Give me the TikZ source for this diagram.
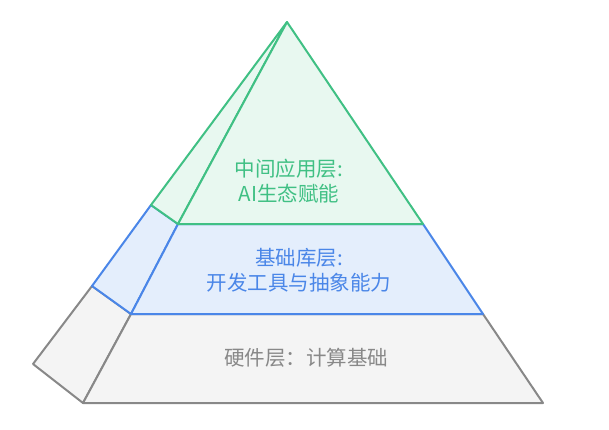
\documentclass[tikz,border=0pt]{standalone}
\usepackage{fontspec}
\newfontfamily\cjk{Noto Sans CJK SC}
\usetikzlibrary{calc}
\definecolor{LayerGreen}{RGB}{64,192,132}
\definecolor{LayerGreenFill}{RGB}{232,248,240}
\definecolor{LayerBlue}{RGB}{74,134,232}
\definecolor{LayerBlueFill}{RGB}{228,238,252}
\definecolor{LayerGray}{RGB}{136,136,136}
\definecolor{LayerGrayFill}{RGB}{244,244,244}

\begin{document}
\begin{tikzpicture}[
    x=1pt, y=-1pt,
    face/.style={line width=2pt, line join=round},
    label/.style={font=\cjk\fontsize{20.5}{25}\selectfont, align=center},
]
\useasboundingbox (0,0) rectangle (609,429);

% corners of the pyramid (pixel grid)
\coordinate (apex) at (287,22);
\coordinate (gL) at (178,224);
\coordinate (gR) at (423,224);
\coordinate (gB) at (151,205);
\coordinate (bL) at (131,314);
\coordinate (bR) at (483,314);
\coordinate (bB) at (92,286);
\coordinate (fL) at (83,403);
\coordinate (fR) at (543,403);
\coordinate (fB) at (33,364);

% hardware layer
\filldraw[face, draw=LayerGray, fill=LayerGrayFill]
    (bB) -- (fB) -- (fL) -- (bL) -- cycle;
\filldraw[face, draw=LayerGray, fill=LayerGrayFill]
    (bL) -- (fL) -- (fR) -- (bR) -- cycle;

% library layer
\filldraw[face, draw=LayerBlue, fill=LayerBlueFill]
    (gB) -- (bB) -- (bL) -- (gL) -- cycle;
\filldraw[face, draw=LayerBlue, fill=LayerBlueFill]
    (gL) -- (bL) -- (bR) -- (gR) -- cycle;

% application layer
\filldraw[face, draw=LayerGreen, fill=LayerGreenFill]
    (apex) -- (gB) -- (gL) -- cycle;
\filldraw[face, draw=LayerGreen, fill=LayerGreenFill]
    (apex) -- (gL) -- (gR) -- cycle;

\node[label, text=LayerGreen] (app) at (289,181) {中间应用层:\\ AI生态赋能};
\node[label, text=LayerBlue] (lib) at (299,270) {基础库层:\\开发工具与抽象能力};
\node[label, text=LayerGray] (hw) at (306,358) {硬件层：计算基础};

\end{tikzpicture}
\end{document}
